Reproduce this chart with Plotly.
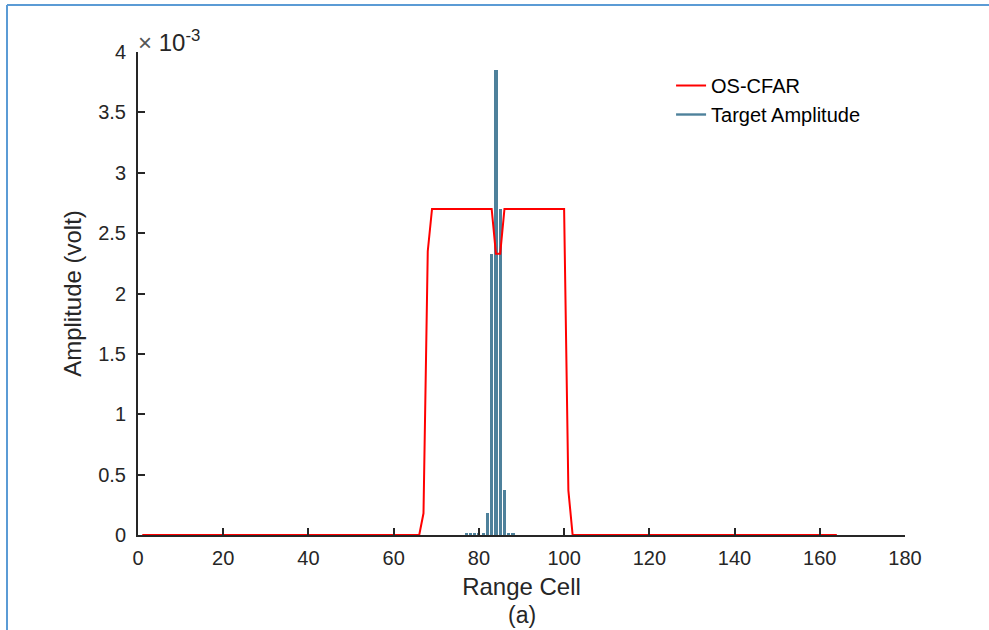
import plotly.graph_objects as go

# ---------------- data (amplitude in units of 1e-3 volt) ----------------
cfar_x = [1, 66, 67, 68, 69, 83, 84, 85, 86, 100, 101, 102, 164]
cfar_y = [0.0, 0.0, 0.18, 2.35, 2.70, 2.70, 2.33, 2.33, 2.70, 2.70, 0.37, 0.0, 0.0]

target_x = [77, 78, 79, 80, 81, 82, 83, 84, 85, 86, 87, 88]
target_y = [0.012, 0.015, 0.015, 0.018, 0.02, 0.18, 2.33, 3.85, 2.70, 0.37, 0.02, 0.012]

x_ticks = [0, 20, 40, 60, 80, 100, 120, 140, 160, 180]
y_ticks = [0, 0.5, 1, 1.5, 2, 2.5, 3, 3.5, 4]
y_tick_text = ["0", "0.5", "1", "1.5", "2", "2.5", "3", "3.5", "4"]

RED = "#FF0000"
BLUE = "#4E819B"
AX = "#262626"
FONT = "Liberation Sans, Arial, sans-serif"

W, H = 989, 630
L, R, T, B = 138, 84, 52, 95

fig = go.Figure()

fig.add_trace(go.Bar(
    x=target_x, y=target_y, width=0.75,
    marker=dict(color=BLUE, line=dict(width=0)),
    showlegend=False, hoverinfo="x+y",
))
fig.add_trace(go.Scatter(
    x=cfar_x, y=cfar_y, mode="lines",
    line=dict(color=RED, width=2),
    name="OS-CFAR",
))
# legend entry for the target amplitude (drawn as a line like the original)
fig.add_trace(go.Scatter(
    x=[None], y=[None], mode="lines",
    line=dict(color=BLUE, width=2.4),
    name="Target Amplitude",
))

pw = W - L - R
ph = H - T - B
# outer light-blue frame (left and top edges visible in the reference)
x_left = (7 - L) / pw
y_top = (H - B - 5) / ph
fig.add_shape(type="line", xref="paper", yref="paper",
              x0=x_left, x1=x_left, y0=-0.3, y1=y_top,
              line=dict(color="#5B9BD5", width=2))
fig.add_shape(type="line", xref="paper", yref="paper",
              x0=x_left, x1=(W + 5 - L) / pw, y0=y_top, y1=y_top,
              line=dict(color="#5B9BD5", width=2))

fig.add_annotation(
    xref="paper", yref="paper", x=0, y=1.0, xanchor="left", yanchor="bottom",
    text="<span style='color:#555555'>×</span> 10<sup>-3</sup>", showarrow=False,
    font=dict(family=FONT, size=24, color=AX), xshift=-2, yshift=-6,
)
fig.add_annotation(
    xref="paper", yref="paper", x=0.5, y=0, xanchor="center", yanchor="top",
    text="(a)", showarrow=False,
    font=dict(family=FONT, size=23, color=AX), yshift=-65,
)

fig.update_layout(
    width=W, height=H,
    margin=dict(l=L, r=R, t=T, b=B),
    paper_bgcolor="white", plot_bgcolor="white",
    font=dict(family=FONT, size=20, color=AX),
    bargap=0,
    legend=dict(
        x=0.695, y=0.971, xanchor="left", yanchor="top",
        bgcolor="rgba(0,0,0,0)", font=dict(family=FONT, size=20, color="#000000"),
        tracegroupgap=0,
    ),
    xaxis=dict(
        range=[0, 180], tickvals=x_ticks, ticks="inside", ticklen=7, tickwidth=1.5,
        tickcolor=AX, showline=True, linecolor=AX, linewidth=2, showgrid=False,
        zeroline=False, tickfont=dict(size=20, color=AX), ticklabelstandoff=4,
        title=dict(text="Range Cell", font=dict(size=24, color=AX), standoff=10),
    ),
    yaxis=dict(
        range=[0, 4], tickvals=y_ticks, ticktext=y_tick_text, ticks="inside",
        ticklen=7, tickwidth=1.5, tickcolor=AX, showline=True, linecolor=AX,
        linewidth=2, showgrid=False, zeroline=False,
        tickfont=dict(size=20, color=AX), ticklabelstandoff=6,
        title=dict(text="Amplitude (volt)", font=dict(size=24, color=AX), standoff=10),
    ),
)

fig.write_html("out.html")
